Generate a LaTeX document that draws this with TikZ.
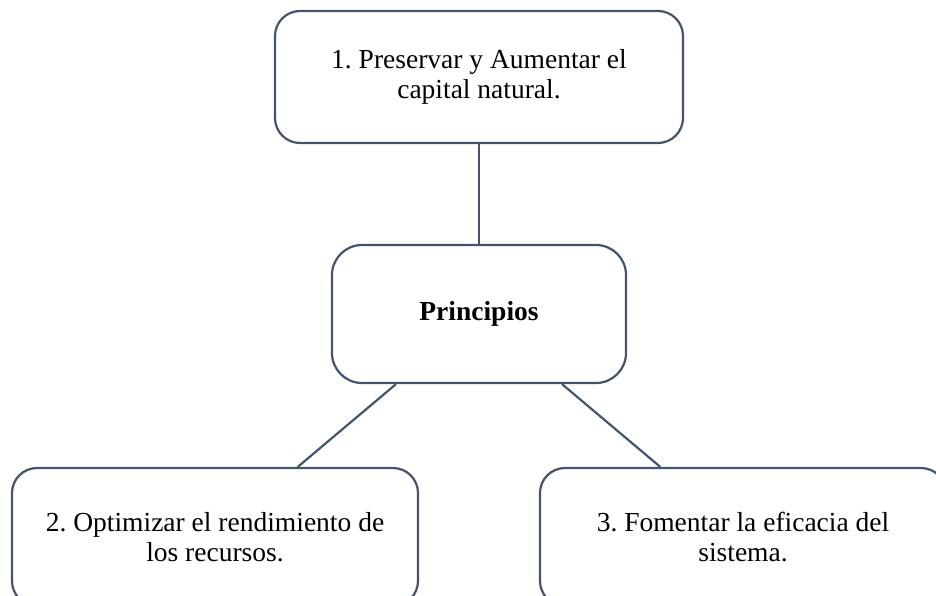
\documentclass[tikz,border=0pt]{standalone}
\usepackage{fontspec}
\setmainfont{Liberation Serif}
\frenchspacing

\definecolor{linecol}{HTML}{44546A}

\begin{document}
\begin{tikzpicture}[x=1pt, y=-1pt,
  box/.style={draw=linecol, line width=2.2pt, rounded corners=25pt, fill=white,
    align=center, inner sep=0pt, minimum width=406pt, minimum height=136pt,
    font=\fontsize{27.5}{30}\selectfont},
  link/.style={draw=linecol, line width=2.2pt}]

\useasboundingbox (0,0) rectangle (936,596);
\clip (0,0) rectangle (936,596);

% top box
\node [box, minimum width=408pt, minimum height=132pt] (nat) at (479,77)
  {1. Preservar y Aumentar el\\capital natural.};

% centre box
\node [box, minimum width=294pt, minimum height=138pt, rounded corners=30pt] (prin) at (479,314)
  {\textbf{Principios}};

% bottom boxes
\foreach \n/\x/\t in {rec/215/{2. Optimizar el rendimiento de\\los recursos.},
                      efi/743/{3. Fomentar la eficacia del\\sistema.}}
  \node [box, minimum height=138pt] (\n) at (\x,537) {\t};

% links
\draw [link] (nat) -- (prin);
\foreach \n in {rec,efi}
  \draw [link] (prin) -- (\n);

\end{tikzpicture}
\end{document}
